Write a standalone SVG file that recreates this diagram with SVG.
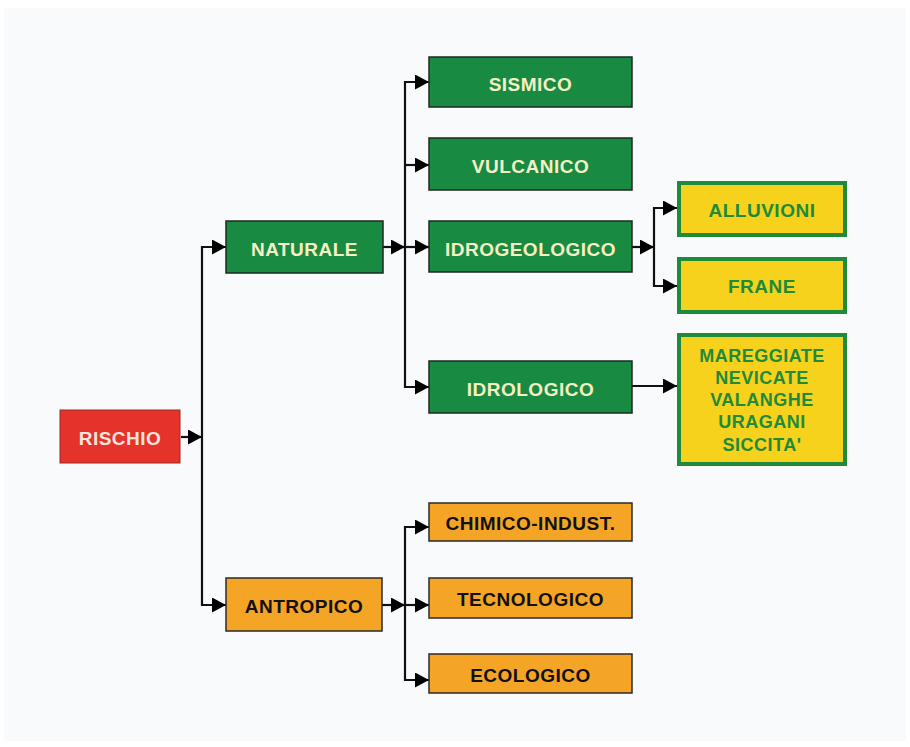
<svg xmlns="http://www.w3.org/2000/svg" width="910" height="747" viewBox="0 0 910 747">
<defs>
<marker id="ah" markerUnits="userSpaceOnUse" markerWidth="15" markerHeight="15" refX="14" refY="7.5" orient="auto">
<path d="M0,0 L14,7.5 L0,15 z" fill="#000"/>
</marker>
<style>
.c{fill:none;stroke:#111;stroke-width:2.2}
.g{fill:#198a42;stroke:#1c2a1e;stroke-width:1.5}
.r{fill:#e5322b;stroke:#9a2a22;stroke-width:1}
.o{fill:#f4a526;stroke:#2a2a2a;stroke-width:1.5}
.y{fill:#f6d21c;stroke:#1e8a3a;stroke-width:4}
text{font-family:"Liberation Sans",Arial,sans-serif;font-weight:bold;text-anchor:middle;letter-spacing:0.5px}
.tg{fill:#f4f0c4;font-size:19px}
.tr{fill:#f8e4dc;font-size:19px}
.to{fill:#111;font-size:19px}
.ty{fill:#1e8a3a;font-size:19px}
.ty2{fill:#1e8a3a;font-size:18px}
</style>
</defs>
<rect x="0" y="0" width="910" height="747" fill="#ffffff"/>
<rect x="4" y="8" width="902" height="733" fill="#f9fafc"/>
<g id="connectors">
<path class="c" d="M181 437 H202" marker-end="url(#ah)"/>
<path class="c" d="M202 437 V247 H226" marker-end="url(#ah)"/>
<path class="c" d="M202 437 V605 H226" marker-end="url(#ah)"/>
<path class="c" d="M383 247 H405" marker-end="url(#ah)"/>
<path class="c" d="M405 247 V82 H429" marker-end="url(#ah)"/>
<path class="c" d="M405 165 H429" marker-end="url(#ah)"/>
<path class="c" d="M405 247 H429" marker-end="url(#ah)"/>
<path class="c" d="M405 247 V387 H429" marker-end="url(#ah)"/>
<path class="c" d="M632 247 H654" marker-end="url(#ah)"/>
<path class="c" d="M654 247 V208 H677" marker-end="url(#ah)"/>
<path class="c" d="M654 247 V286 H677" marker-end="url(#ah)"/>
<path class="c" d="M632 386 H677" marker-end="url(#ah)"/>
<path class="c" d="M382 605 H405" marker-end="url(#ah)"/>
<path class="c" d="M405 605 V527 H429" marker-end="url(#ah)"/>
<path class="c" d="M405 605 H429" marker-end="url(#ah)"/>
<path class="c" d="M405 605 V680 H429" marker-end="url(#ah)"/>
</g>
<g id="rischio"><rect class="r" x="60" y="410" width="120" height="53"/><text class="tr" x="120" y="445">RISCHIO</text></g>
<g id="naturale"><rect class="g" x="226" y="221" width="157" height="52"/><text class="tg" x="304.5" y="256">NATURALE</text></g>
<g id="sismico"><rect class="g" x="429" y="57" width="203" height="50"/><text class="tg" x="530.5" y="91">SISMICO</text></g>
<g id="vulcanico"><rect class="g" x="429" y="138" width="203" height="52"/><text class="tg" x="530.5" y="173">VULCANICO</text></g>
<g id="idrogeologico"><rect class="g" x="429" y="221" width="203" height="51"/><text class="tg" x="530.5" y="256">IDROGEOLOGICO</text></g>
<g id="idrologico"><rect class="g" x="429" y="361" width="203" height="52"/><text class="tg" x="530.5" y="396">IDROLOGICO</text></g>
<g id="alluvioni"><rect class="y" x="679" y="183" width="166" height="52"/><text class="ty" x="762" y="217">ALLUVIONI</text></g>
<g id="frane"><rect class="y" x="679" y="259" width="166" height="53"/><text class="ty" x="762" y="293">FRANE</text></g>
<g id="altri"><rect class="y" x="679" y="335" width="166" height="129"/>
<text class="ty2" x="762" y="362">MAREGGIATE</text>
<text class="ty2" x="762" y="384">NEVICATE</text>
<text class="ty2" x="762" y="406">VALANGHE</text>
<text class="ty2" x="762" y="428">URAGANI</text>
<text class="ty2" x="762" y="451">SICCITA'</text>
</g>
<g id="antropico"><rect class="o" x="226" y="578" width="156" height="53"/><text class="to" x="304" y="613">ANTROPICO</text></g>
<g id="chimico"><rect class="o" x="429" y="503" width="203" height="38"/><text class="to" x="530.5" y="530">CHIMICO-INDUST.</text></g>
<g id="tecnologico"><rect class="o" x="429" y="578" width="203" height="40"/><text class="to" x="530.5" y="606">TECNOLOGICO</text></g>
<g id="ecologico"><rect class="o" x="429" y="654" width="203" height="39"/><text class="to" x="530.5" y="682">ECOLOGICO</text></g>
</svg>
